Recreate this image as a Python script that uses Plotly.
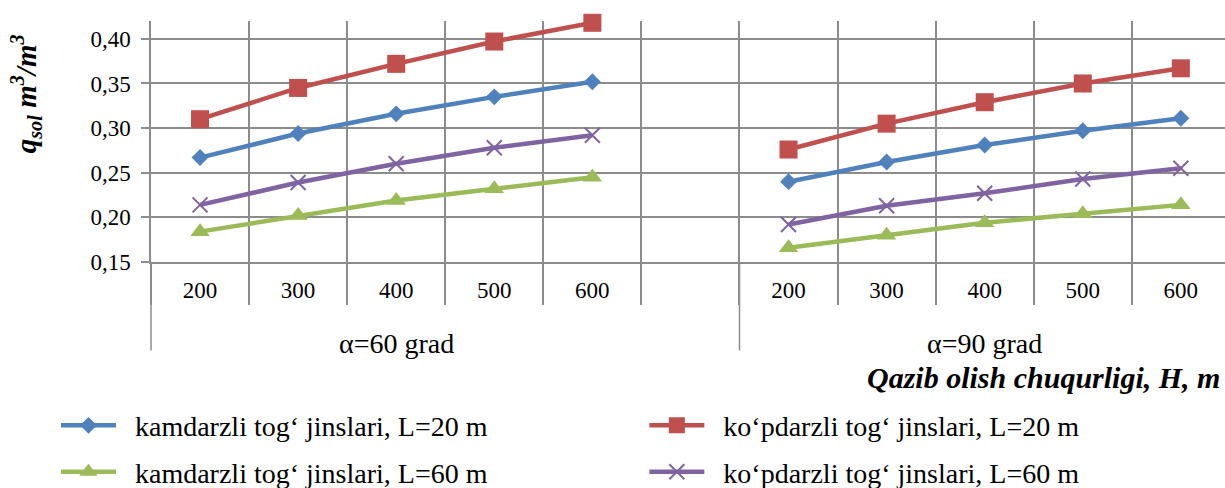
import plotly.graph_objects as go

# ---- data ----
depth = ["200", "300", "400", "500", "600"]
groups = ["α=60 grad", "α=90 grad"]

kam20_a60 = [0.267, 0.294, 0.316, 0.335, 0.352]
kam20_a90 = [0.240, 0.262, 0.281, 0.297, 0.311]
kop20_a60 = [0.310, 0.345, 0.372, 0.397, 0.418]
kop20_a90 = [0.276, 0.305, 0.329, 0.350, 0.367]
kam60_a60 = [0.184, 0.202, 0.219, 0.232, 0.245]
kam60_a90 = [0.166, 0.180, 0.194, 0.204, 0.214]
kop60_a60 = [0.214, 0.239, 0.260, 0.278, 0.292]
kop60_a90 = [0.192, 0.213, 0.227, 0.243, 0.255]

y_ticks = [0.15, 0.20, 0.25, 0.30, 0.35, 0.40]

names = {
    "kam20": "kamdarzli tog‘ jinslari, L=20 m",
    "kop20": "ko‘pdarzli tog‘ jinslari, L=20 m",
    "kam60": "kamdarzli tog‘ jinslari, L=60 m",
    "kop60": "ko‘pdarzli tog‘ jinslari, L=60 m",
}

# ---- category positions: 5 depths, one empty slot, 5 depths ----
n = len(depth)
x_all = list(range(2 * n + 1))
tickvals = [g * (n + 1) + i for g in range(2) for i in range(n)]
ticktext = depth * 2
group_centers = [g * (n + 1) + (n - 1) / 2 for g in range(2)]
group_edges = [g * (n + 1) - 0.5 for g in range(2)]
x_range = [-0.5, 10.45]

FONT = "Liberation Serif"
GRID = "#8c8c8c"
TXT = 28
PAD = "\u00a0\u00a0"  # extra gap between legend symbol and text

def series(a, b):
    return a + [None] + b

fig = go.Figure()
specs = [
    ("kam20", kam20_a60, kam20_a90, "#4F81BD", dict(symbol="diamond", size=13), "legend"),
    ("kam60", kam60_a60, kam60_a90, "#9BBB59", dict(symbol="triangle-up", size=17), "legend"),
    ("kop20", kop20_a60, kop20_a90, "#C0504D", dict(symbol="square", size=18), "legend2"),
    ("kop60", kop60_a60, kop60_a90, "#8064A2",
     dict(symbol="x-thin", size=15, line=dict(width=2, color="#8064A2")), "legend2"),
]
for key, a, b, col, mk, lg in specs:
    fig.add_trace(go.Scatter(
        x=x_all, y=series(a, b), mode="lines+markers", name=PAD + names[key],
        line=dict(color=col, width=4.5), marker=dict(color=col, **mk),
        connectgaps=False, cliponaxis=False, legend=lg, legendgroup=key,
    ))

fig.update_layout(
    width=1225, height=488,
    margin=dict(l=151, r=0, t=21, b=226, autoexpand=False),
    paper_bgcolor="white", plot_bgcolor="white",
    separators=", ",
    font=dict(family=FONT, size=22, color="black"),
    showlegend=True,
    legend=dict(xref="container", yref="container", x=0.0457, y=0.179,
                xanchor="left", yanchor="top", tracegroupgap=7, itemwidth=55,
                font=dict(family=FONT, size=TXT), bgcolor="rgba(0,0,0,0)"),
    legend2=dict(xref="container", yref="container", x=0.526, y=0.179,
                 xanchor="left", yanchor="top", tracegroupgap=7, itemwidth=55,
                 font=dict(family=FONT, size=TXT), bgcolor="rgba(0,0,0,0)"),
    xaxis=dict(
        range=x_range, tickmode="array", tickvals=tickvals, ticktext=ticktext,
        showgrid=False, zeroline=False, ticks="", ticklabelstandoff=7, tickangle=0,
        showline=True, linecolor=GRID, linewidth=1.5,
        minor=dict(tick0=-0.5, dtick=1, showgrid=True, gridcolor=GRID, gridwidth=1.5,
                   ticks="outside", ticklen=41, tickcolor=GRID, tickwidth=1.5),
        tickfont=dict(family=FONT, size=23),
    ),
    yaxis=dict(
        range=[0.15, 0.42], tickmode="array", tickvals=y_ticks, tickformat=".2f",
        showgrid=True, gridcolor=GRID, gridwidth=1.5, zeroline=False,
        showline=True, linecolor=GRID, linewidth=1.5,
        ticks="outside", ticklen=8, tickcolor=GRID, tickwidth=1.5,
        ticklabelstandoff=6, tickfont=dict(family=FONT, size=23),
    ),
)

# long dividers between the groups (paper x derived from the axis range)
for xe in group_edges:
    xp = (xe - x_range[0]) / (x_range[1] - x_range[0])
    fig.add_shape(type="line", xref="paper", yref="paper", x0=xp, x1=xp, y0=0, y1=-0.367,
                  line=dict(color=GRID, width=1.5))

# group labels
for gc, gl in zip(group_centers, groups):
    fig.add_annotation(x=gc, xref="x", y=-0.339, yref="paper", text=gl, showarrow=False,
                       xanchor="center", yanchor="middle", font=dict(family=FONT, size=TXT))

# axis titles
fig.add_annotation(x=0.997, xref="paper", y=-0.48, yref="paper",
                   text="<b><i>Qazib olish chuqurligi, H, m</i></b>", showarrow=False,
                   xanchor="right", yanchor="middle", font=dict(family=FONT, size=30))
fig.add_annotation(x=-0.1164, xref="paper", y=0.70, yref="paper", textangle=-90,
                   text="<b><i>q<sub>sol</sub> m<sup>3</sup>/m<sup>3</sup></i></b>",
                   showarrow=False, xanchor="center", yanchor="middle",
                   font=dict(family=FONT, size=29))

fig.write_html("out.html", config={"displayModeBar": False},
               post_script="document.body.style.margin='0px';")
